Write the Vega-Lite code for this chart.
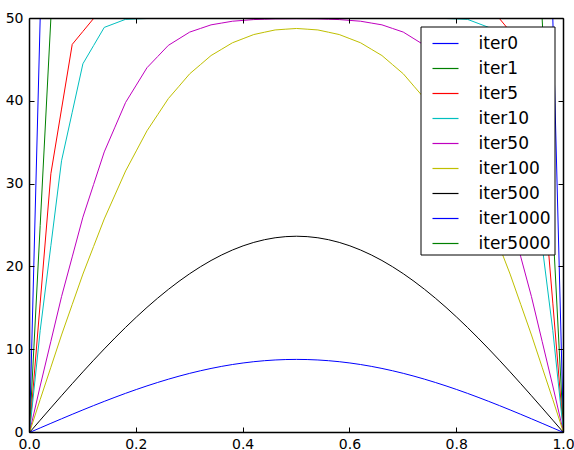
{
  "$schema": "https://vega.github.io/schema/vega-lite/v6.json",
  "width": 534,
  "height": 414,
  "autosize": "none",
  "padding": {"left": 29.5, "top": 18.5, "right": 10.5, "bottom": 17.5},
  "config": {
    "view": {"stroke": null},
    "font": "DejaVu Sans",
    "axis": {
      "domain": true,
      "domainColor": "black",
      "domainWidth": 1.5,
      "translate": 0,
      "grid": false,
      "tickSize": -5,
      "tickColor": "black",
      "tickWidth": 1,
      "labelFont": "DejaVu Sans",
      "labelFontSize": 14,
      "labelColor": "black",
      "labelFlush": false,
      "labelOverlap": false,
      "labelBound": false,
      "title": null
    },
    "legend": {
      "strokeColor": "black",
      "fillColor": "white",
      "padding": 3,
      "symbolType": "stroke",
      "symbolSize": 676,
      "symbolStrokeWidth": 1.2,
      "labelFont": "DejaVu Sans",
      "labelFontSize": 17,
      "labelColor": "black",
      "rowPadding": 3,
      "labelOffset": 19,
      "symbolOffset": 8,
      "cornerRadius": 0,
      "zindex": 2
    }
  },
  "data": {
    "values": [
      {"x": 0, "iter0": 0, "iter1": 0, "iter5": 0, "iter10": 0, "iter50": 0, "iter100": 0, "iter500": 0, "iter1000": 0, "iter5000": 0},
      {"x": 0.02, "iter0": 50, "iter1": 25, "iter5": 15.625, "iter10": 12.305, "iter50": 5.614, "iter100": 3.979, "iter500": 1.488, "iter1000": 0.554, "iter5000": 0.0002},
      {"x": 0.04, "iter0": 50, "iter1": 50, "iter5": 31.25, "iter10": 22.559, "iter50": 11.012, "iter100": 7.882, "iter500": 2.971, "iter1000": 1.107, "iter5000": 0.0004},
      {"x": 0.06, "iter0": 50, "iter1": 50, "iter5": 39.063, "iter10": 32.813, "iter50": 16.409, "iter100": 11.78, "iter500": 4.442, "iter1000": 1.654, "iter5000": 0.0006},
      {"x": 0.08, "iter0": 50, "iter1": 50, "iter5": 46.875, "iter10": 38.672, "iter50": 21.208, "iter100": 15.46, "iter500": 5.895, "iter1000": 2.196, "iter5000": 0.0008},
      {"x": 0.1, "iter0": 50, "iter1": 50, "iter5": 48.438, "iter10": 44.531, "iter50": 26.006, "iter100": 19.133, "iter500": 7.325, "iter1000": 2.728, "iter5000": 0.001},
      {"x": 0.12, "iter0": 50, "iter1": 50, "iter5": 50, "iter10": 46.729, "iter50": 29.947, "iter100": 22.466, "iter500": 8.726, "iter1000": 3.25, "iter5000": 0.0012},
      {"x": 0.14, "iter0": 50, "iter1": 50, "iter5": 50, "iter10": 48.926, "iter50": 33.888, "iter100": 25.792, "iter500": 10.093, "iter1000": 3.759, "iter5000": 0.0014},
      {"x": 0.16, "iter0": 50, "iter1": 50, "iter5": 50, "iter10": 49.414, "iter50": 36.878, "iter100": 28.693, "iter500": 11.42, "iter1000": 4.253, "iter5000": 0.0016},
      {"x": 0.18, "iter0": 50, "iter1": 50, "iter5": 50, "iter10": 49.902, "iter50": 39.868, "iter100": 31.588, "iter500": 12.701, "iter1000": 4.731, "iter5000": 0.0018},
      {"x": 0.2, "iter0": 50, "iter1": 50, "iter5": 50, "iter10": 49.951, "iter50": 41.961, "iter100": 34.011, "iter500": 13.933, "iter1000": 5.19, "iter5000": 0.0019},
      {"x": 0.22, "iter0": 50, "iter1": 50, "iter5": 50, "iter10": 50, "iter50": 44.054, "iter100": 36.435, "iter500": 15.11, "iter1000": 5.628, "iter5000": 0.0021},
      {"x": 0.24, "iter0": 50, "iter1": 50, "iter5": 50, "iter10": 50, "iter50": 45.405, "iter100": 38.378, "iter500": 16.227, "iter1000": 6.044, "iter5000": 0.0022},
      {"x": 0.26, "iter0": 50, "iter1": 50, "iter5": 50, "iter10": 50, "iter50": 46.755, "iter100": 40.326, "iter500": 17.28, "iter1000": 6.436, "iter5000": 0.0024},
      {"x": 0.28, "iter0": 50, "iter1": 50, "iter5": 50, "iter10": 50, "iter50": 47.557, "iter100": 41.819, "iter500": 18.264, "iter1000": 6.803, "iter5000": 0.0025},
      {"x": 0.3, "iter0": 50, "iter1": 50, "iter5": 50, "iter10": 50, "iter50": 48.358, "iter100": 43.321, "iter500": 19.177, "iter1000": 7.143, "iter5000": 0.0026},
      {"x": 0.32, "iter0": 50, "iter1": 50, "iter5": 50, "iter10": 50, "iter50": 48.796, "iter100": 44.42, "iter500": 20.014, "iter1000": 7.455, "iter5000": 0.0028},
      {"x": 0.34, "iter0": 50, "iter1": 50, "iter5": 50, "iter10": 50, "iter50": 49.233, "iter100": 45.526, "iter500": 20.772, "iter1000": 7.737, "iter5000": 0.0029},
      {"x": 0.36, "iter0": 50, "iter1": 50, "iter5": 50, "iter10": 50, "iter50": 49.452, "iter100": 46.294, "iter500": 21.448, "iter1000": 7.989, "iter5000": 0.003},
      {"x": 0.38, "iter0": 50, "iter1": 50, "iter5": 50, "iter10": 50, "iter50": 49.67, "iter100": 47.066, "iter500": 22.039, "iter1000": 8.209, "iter5000": 0.003},
      {"x": 0.4, "iter0": 50, "iter1": 50, "iter5": 50, "iter10": 50, "iter50": 49.77, "iter100": 47.565, "iter500": 22.544, "iter1000": 8.397, "iter5000": 0.0031},
      {"x": 0.42, "iter0": 50, "iter1": 50, "iter5": 50, "iter10": 50, "iter50": 49.87, "iter100": 48.063, "iter500": 22.959, "iter1000": 8.552, "iter5000": 0.0032},
      {"x": 0.44, "iter0": 50, "iter1": 50, "iter5": 50, "iter10": 50, "iter50": 49.912, "iter100": 48.343, "iter500": 23.284, "iter1000": 8.673, "iter5000": 0.0032},
      {"x": 0.46, "iter0": 50, "iter1": 50, "iter5": 50, "iter10": 50, "iter50": 49.953, "iter100": 48.617, "iter500": 23.517, "iter1000": 8.759, "iter5000": 0.0032},
      {"x": 0.48, "iter0": 50, "iter1": 50, "iter5": 50, "iter10": 50, "iter50": 49.961, "iter100": 48.71, "iter500": 23.657, "iter1000": 8.812, "iter5000": 0.0033},
      {"x": 0.5, "iter0": 50, "iter1": 50, "iter5": 50, "iter10": 50, "iter50": 49.97, "iter100": 48.795, "iter500": 23.704, "iter1000": 8.829, "iter5000": 0.0033},
      {"x": 0.52, "iter0": 50, "iter1": 50, "iter5": 50, "iter10": 50, "iter50": 49.961, "iter100": 48.71, "iter500": 23.657, "iter1000": 8.812, "iter5000": 0.0033},
      {"x": 0.54, "iter0": 50, "iter1": 50, "iter5": 50, "iter10": 50, "iter50": 49.953, "iter100": 48.617, "iter500": 23.517, "iter1000": 8.759, "iter5000": 0.0032},
      {"x": 0.56, "iter0": 50, "iter1": 50, "iter5": 50, "iter10": 50, "iter50": 49.912, "iter100": 48.343, "iter500": 23.284, "iter1000": 8.673, "iter5000": 0.0032},
      {"x": 0.58, "iter0": 50, "iter1": 50, "iter5": 50, "iter10": 50, "iter50": 49.87, "iter100": 48.063, "iter500": 22.959, "iter1000": 8.552, "iter5000": 0.0032},
      {"x": 0.6, "iter0": 50, "iter1": 50, "iter5": 50, "iter10": 50, "iter50": 49.77, "iter100": 47.565, "iter500": 22.544, "iter1000": 8.397, "iter5000": 0.0031},
      {"x": 0.62, "iter0": 50, "iter1": 50, "iter5": 50, "iter10": 50, "iter50": 49.67, "iter100": 47.066, "iter500": 22.039, "iter1000": 8.209, "iter5000": 0.003},
      {"x": 0.64, "iter0": 50, "iter1": 50, "iter5": 50, "iter10": 50, "iter50": 49.452, "iter100": 46.294, "iter500": 21.448, "iter1000": 7.989, "iter5000": 0.003},
      {"x": 0.66, "iter0": 50, "iter1": 50, "iter5": 50, "iter10": 50, "iter50": 49.233, "iter100": 45.526, "iter500": 20.772, "iter1000": 7.737, "iter5000": 0.0029},
      {"x": 0.68, "iter0": 50, "iter1": 50, "iter5": 50, "iter10": 50, "iter50": 48.796, "iter100": 44.42, "iter500": 20.014, "iter1000": 7.455, "iter5000": 0.0028},
      {"x": 0.7, "iter0": 50, "iter1": 50, "iter5": 50, "iter10": 50, "iter50": 48.358, "iter100": 43.321, "iter500": 19.177, "iter1000": 7.143, "iter5000": 0.0026},
      {"x": 0.72, "iter0": 50, "iter1": 50, "iter5": 50, "iter10": 50, "iter50": 47.557, "iter100": 41.819, "iter500": 18.264, "iter1000": 6.803, "iter5000": 0.0025},
      {"x": 0.74, "iter0": 50, "iter1": 50, "iter5": 50, "iter10": 50, "iter50": 46.755, "iter100": 40.326, "iter500": 17.28, "iter1000": 6.436, "iter5000": 0.0024},
      {"x": 0.76, "iter0": 50, "iter1": 50, "iter5": 50, "iter10": 50, "iter50": 45.405, "iter100": 38.378, "iter500": 16.227, "iter1000": 6.044, "iter5000": 0.0022},
      {"x": 0.78, "iter0": 50, "iter1": 50, "iter5": 50, "iter10": 50, "iter50": 44.054, "iter100": 36.435, "iter500": 15.11, "iter1000": 5.628, "iter5000": 0.0021},
      {"x": 0.8, "iter0": 50, "iter1": 50, "iter5": 50, "iter10": 49.951, "iter50": 41.961, "iter100": 34.011, "iter500": 13.933, "iter1000": 5.19, "iter5000": 0.0019},
      {"x": 0.82, "iter0": 50, "iter1": 50, "iter5": 50, "iter10": 49.902, "iter50": 39.868, "iter100": 31.588, "iter500": 12.701, "iter1000": 4.731, "iter5000": 0.0018},
      {"x": 0.84, "iter0": 50, "iter1": 50, "iter5": 50, "iter10": 49.414, "iter50": 36.878, "iter100": 28.693, "iter500": 11.42, "iter1000": 4.253, "iter5000": 0.0016},
      {"x": 0.86, "iter0": 50, "iter1": 50, "iter5": 50, "iter10": 48.926, "iter50": 33.888, "iter100": 25.792, "iter500": 10.093, "iter1000": 3.759, "iter5000": 0.0014},
      {"x": 0.88, "iter0": 50, "iter1": 50, "iter5": 50, "iter10": 46.729, "iter50": 29.947, "iter100": 22.466, "iter500": 8.726, "iter1000": 3.25, "iter5000": 0.0012},
      {"x": 0.9, "iter0": 50, "iter1": 50, "iter5": 48.438, "iter10": 44.531, "iter50": 26.006, "iter100": 19.133, "iter500": 7.325, "iter1000": 2.728, "iter5000": 0.001},
      {"x": 0.92, "iter0": 50, "iter1": 50, "iter5": 46.875, "iter10": 38.672, "iter50": 21.208, "iter100": 15.46, "iter500": 5.895, "iter1000": 2.196, "iter5000": 0.0008},
      {"x": 0.94, "iter0": 50, "iter1": 50, "iter5": 39.063, "iter10": 32.813, "iter50": 16.409, "iter100": 11.78, "iter500": 4.442, "iter1000": 1.654, "iter5000": 0.0006},
      {"x": 0.96, "iter0": 50, "iter1": 50, "iter5": 31.25, "iter10": 22.559, "iter50": 11.012, "iter100": 7.882, "iter500": 2.971, "iter1000": 1.107, "iter5000": 0.0004},
      {"x": 0.98, "iter0": 50, "iter1": 25, "iter5": 15.625, "iter10": 12.305, "iter50": 5.614, "iter100": 3.979, "iter500": 1.488, "iter1000": 0.554, "iter5000": 0.0002},
      {"x": 1, "iter0": 0, "iter1": 0, "iter5": 0, "iter10": 0, "iter50": 0, "iter100": 0, "iter500": 0, "iter1000": 0, "iter5000": 0}
    ]
  },
  "transform": [
    {"fold": ["iter0", "iter1", "iter5", "iter10", "iter50", "iter100", "iter500", "iter1000", "iter5000"], "as": ["series", "value"]}
  ],
  "layer": [
    {
      "mark": {"type": "line", "strokeWidth": 1, "clip": false},
      "encoding": {
        "x": {"field": "x", "type": "quantitative", "scale": {"domain": [0, 1], "nice": false},
              "axis": {"orient": "bottom", "zindex": 1, "values": [0, 0.2, 0.4, 0.6, 0.8, 1], "format": ".1f", "labelPadding": 10}},
        "y": {"field": "value", "type": "quantitative", "scale": {"domain": [0, 50], "nice": false, "zero": false},
              "axis": {"orient": "left", "zindex": 1, "values": [0, 10, 20, 30, 40, 50], "format": "d", "labelPadding": 11}},
        "color": {"field": "series", "type": "nominal",
                  "scale": {"domain": ["iter0", "iter1", "iter5", "iter10", "iter50", "iter100", "iter500", "iter1000", "iter5000"],
                            "range": ["#0000ff", "#008000", "#ff0000", "#00bfbf", "#bf00bf", "#bfbf00", "#000000", "#0000ff", "#008000"]},
                  "legend": {"title": null, "orient": "none", "legendX": 391, "legendY": 8, "zindex": 2}}
      }
    },
    {
      "mark": {"type": "line", "opacity": 0},
      "encoding": {
        "x": {"field": "x", "type": "quantitative",
              "axis": {"orient": "top", "zindex": 1, "values": [0, 0.2, 0.4, 0.6, 0.8, 1], "labels": false}},
        "y": {"field": "value", "type": "quantitative",
              "axis": {"orient": "right", "zindex": 1, "values": [0, 10, 20, 30, 40, 50], "labels": false}}
      }
    }
  ],
  "resolve": {"axis": {"x": "independent", "y": "independent"}}
}
